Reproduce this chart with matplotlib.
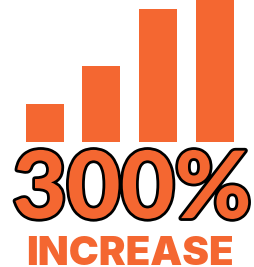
import matplotlib
matplotlib.use("Agg")
import matplotlib.pyplot as plt
import matplotlib.patheffects as pe

# bar heights (relative units, first bar = 1)
positions = [0, 1, 2, 3]
values = [1.0, 2.0, 3.5, 4.0]
headline = "300%"
subtitle = "INCREASE"

orange = "#F46731"

fig = plt.figure(figsize=(2.54, 2.67), dpi=100)
ax = fig.add_axes([0, 0.468, 1, 0.532])
ax.bar(positions, values, width=0.67, color=orange)
ax.set_xlim(-0.79, 3.69)
ax.set_ylim(0, 3.74)
ax.axis("off")

fig.text(0.52, 0.183, headline, ha="center", va="baseline",
         fontsize=67, family="Lato", weight="black", color=orange,
         path_effects=[pe.withStroke(linewidth=4, foreground="black")])
fig.text(0.51, 0.008, subtitle, ha="center", va="baseline",
         fontsize=29, family="Inter", weight="black", color=orange)

fig.savefig("out.png", dpi=100)
